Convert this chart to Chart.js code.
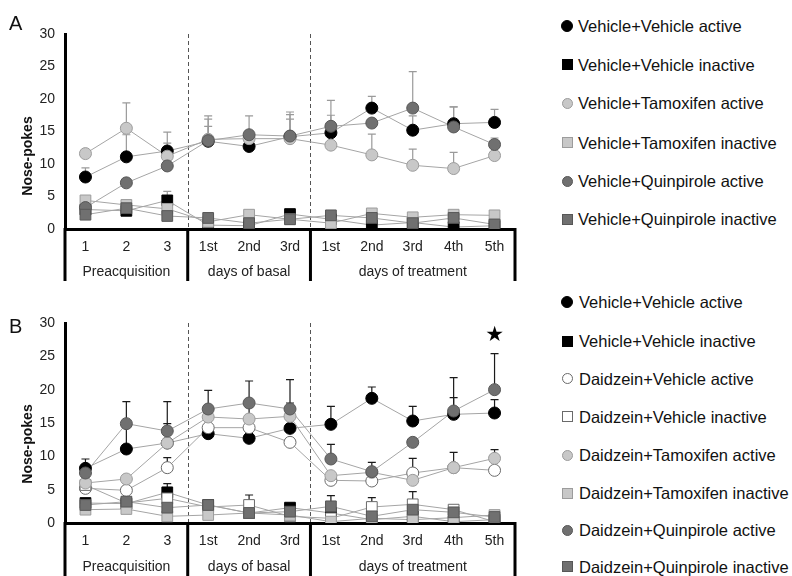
<!DOCTYPE html>
<html><head><meta charset="utf-8">
<script src="https://cdn.jsdelivr.net/npm/chart.js@4.4.0/dist/chart.umd.min.js"></script>
<style>
body{margin:0;background:#fff;width:792px;height:576px;overflow:hidden;position:relative;font-family:"Liberation Sans",Arial,sans-serif;color:#111}
canvas{position:absolute;left:0}
.lg{position:absolute;left:578px;font-size:16.5px;line-height:20px;white-space:nowrap;color:#111}
.mk{position:absolute;box-sizing:border-box}
.pl{position:absolute;font-size:20px;line-height:20px;left:9px}
</style></head><body>
<canvas id="cA" width="540" height="290" style="top:0"></canvas>
<canvas id="cB" width="540" height="286" style="top:290px"></canvas>
<div class="pl" style="top:13px">A</div>
<div class="pl" style="top:316px">B</div>
<div id="legend"></div>
<script>
// ---------- categories / groups ----------
const categories = ['1','2','3','1st','2nd','3rd','1st','2nd','3rd','4th','5th'];
const groupNames = ['Preacquisition','days of basal','days of treatment'];
const groupSizes = [3,3,5];
const yAxisTitle = 'Nose-pokes';

// ---------- Panel A values ----------
const aVehVehActive    = [8.0, 11.1, 12.0, 13.5, 12.7, 14.2, 14.8, 18.6, 15.2, 16.2, 16.4];
const aVehVehInactive  = [3.0, 2.8, 4.4, 0.6, 0.5, 2.3, 1.5, 0.6, 1.0, 0.3, 0.5];
const aVehTamActive    = [11.6, 15.5, 11.2, 13.8, 13.9, 13.9, 12.9, 11.4, 9.8, 9.3, 11.3];
const aVehTamInactive  = [4.4, 3.7, 3.1, 1.1, 2.2, 1.5, 0.9, 2.4, 1.8, 2.2, 2.1];
const aVehQuinActive   = [3.3, 7.1, 9.7, 13.6, 14.5, 14.3, 15.8, 16.3, 18.6, 15.7, 13.0];
const aVehQuinInactive = [2.2, 3.2, 2.0, 1.7, 0.9, 1.5, 2.1, 1.7, 0.9, 1.7, 0.7];
// error (SEM, upward) for panel A
const aErrVehVehActive   = [1.4, 3.4, 2.9, 3.9, 4.7, 3.8, 2.7, 1.8, 2.2, 2.6, 2.0];
const aErrVehVehInactive = [0, 0.3, 1.4, 0, 0, 0, 0, 0, 0, 0, 0];
const aErrVehTamActive   = [0, 3.9, 2.0, 3.1, 0, 3.0, 0, 3.2, 2.5, 2.5, 0];
const aErrVehQuinActive  = [0, 0, 0, 2.2, 0, 3.3, 4.0, 0, 5.6, 3.1, 1.0];

// ---------- Panel B values ----------
const bVehVehActive    = [8.2, 11.1, 12.0, 13.4, 12.7, 14.2, 14.8, 18.7, 15.3, 16.3, 16.5];
const bVehVehInactive  = [3.0, 2.9, 4.6, 2.7, 1.5, 2.3, 1.5, 0.5, 1.0, 0.2, 0.5];
const bDaiVehActive    = [5.2, 4.9, 8.3, 14.3, 14.3, 12.1, 6.4, 6.3, 7.5, 8.3, 7.9];
const bDaiVehInactive  = [5.7, 3.0, 3.7, 2.4, 2.7, 1.0, 0.7, 2.4, 2.8, 2.0, 0.2];
const bDaiTamActive    = [6.0, 6.6, 12.0, 15.9, 15.6, 16.0, 7.1, 7.6, 6.4, 8.3, 9.7];
const bDaiTamInactive  = [2.0, 2.1, 1.0, 1.2, 1.5, 1.2, 0.2, 0.7, 0.5, 0.8, 1.2];
const bDaiQuinActive   = [7.5, 14.9, 13.8, 17.1, 18.0, 17.1, 9.6, 7.7, 12.1, 16.8, 20.0];
const bDaiQuinInactive = [2.7, 3.2, 2.3, 2.7, 1.5, 1.7, 2.5, 1.0, 2.0, 1.6, 0.9];
// error (SEM, upward) for panel B
const bErrVehVehActive   = [1.4, 3.4, 2.9, 3.9, 4.7, 3.8, 2.7, 1.7, 2.2, 2.5, 2.0];
const bErrVehVehInactive = [0, 0, 1.3, 0, 0, 0, 0, 0, 0, 0, 0];
const bErrDaiVehActive   = [0, 0, 1.5, 0, 0, 0, 0, 0, 2.2, 0, 0];
const bErrDaiVehInactive = [0, 0, 0, 0, 1.5, 0, 0, 1.4, 1.9, 0, 0];
const bErrDaiTamActive   = [0, 0, 0, 0, 0, 0, 0, 0, 0, 2.3, 1.3];
const bErrDaiQuinActive  = [0, 3.3, 4.4, 2.8, 3.3, 4.4, 2.2, 1.4, 0, 5.0, 5.4];
const bErrDaiQuinInactive= [0, 0, 0, 0, 0, 0, 1.6, 0, 0, 0, 0];
// significance star (panel B)
const bStar = [null, null, null, null, null, null, null, null, null, null, 28.1];

// ---------- legend names ----------
const legendA = ['Vehicle+Vehicle active','Vehicle+Vehicle inactive','Vehicle+Tamoxifen active','Vehicle+Tamoxifen inactive','Vehicle+Quinpirole active','Vehicle+Quinpirole inactive'];
const legendB = ['Vehicle+Vehicle active','Vehicle+Vehicle inactive','Daidzein+Vehicle active','Daidzein+Vehicle inactive','Daidzein+Tamoxifen active','Daidzein+Tamoxifen inactive','Daidzein+Quinpirole active','Daidzein+Quinpirole inactive'];

const FONT = '"Liberation Sans", Arial, sans-serif';
const TONE = {
  black:{bg:'#000000', bd:'#000000'},
  light:{bg:'#c8c8c8', bd:'#9c9c9c'},
  dark: {bg:'#707070', bd:'#575757'},
  white:{bg:'#ffffff', bd:'#6a6a6a'}
};

const seriesA = [
  {data:aVehVehActive,   err:aErrVehVehActive,   shape:'c', tone:'black'},
  {data:aVehVehInactive, err:aErrVehVehInactive, shape:'s', tone:'black'},
  {data:aVehTamActive,   err:aErrVehTamActive,   shape:'c', tone:'light'},
  {data:aVehTamInactive, err:null,               shape:'s', tone:'light'},
  {data:aVehQuinActive,  err:aErrVehQuinActive,  shape:'c', tone:'dark'},
  {data:aVehQuinInactive,err:null,               shape:'s', tone:'dark'}
];
const seriesB = [
  {data:bVehVehActive,   err:bErrVehVehActive,   shape:'c', tone:'black'},
  {data:bVehVehInactive, err:bErrVehVehInactive, shape:'s', tone:'black'},
  {data:bDaiVehActive,   err:bErrDaiVehActive,   shape:'c', tone:'white'},
  {data:bDaiVehInactive, err:bErrDaiVehInactive, shape:'s', tone:'white'},
  {data:bDaiTamActive,   err:bErrDaiTamActive,   shape:'c', tone:'light'},
  {data:bDaiTamInactive, err:null,               shape:'s', tone:'light'},
  {data:bDaiQuinActive,  err:bErrDaiQuinActive,  shape:'c', tone:'dark'},
  {data:bDaiQuinInactive,err:bErrDaiQuinInactive,shape:'s', tone:'dark'}
];

function buildDatasets(series){
  const ds = [];
  series.forEach((s,i)=>{
    ds.push({data:s.data, showLine:true, borderColor:'#a5a5a5', borderWidth:1, pointRadius:0, pointHoverRadius:0, fill:false, tension:0, order:100+i});
  });
  series.forEach((s,i)=>{
    const t = TONE[s.tone];
    ds.push({data:s.data, showLine:false, pointStyle:s.shape==='c'?'circle':'rect',
      pointRadius:s.shape==='c'?6:7.6, pointHoverRadius:s.shape==='c'?6:7.6,
      pointBackgroundColor:t.bg, pointBorderColor:t.bd, pointBorderWidth:1,
      backgroundColor:t.bg, borderColor:t.bd, order:-i});
  });
  return ds;
}

function panelPlugin(cfg){
  return {
    id:'panelDeco',
    beforeDatasetsDraw(chart){
      const {ctx, chartArea, scales:{x,y}} = chart;
      ctx.save();
      // dashed separators inside plot
      ctx.strokeStyle = '#555'; ctx.lineWidth = 1; ctx.setLineDash([4,3]);
      let idx = 0;
      for (let g=0; g<groupSizes.length-1; g++){
        idx += groupSizes[g];
        const px = Math.round((x.getPixelForValue(idx-1)+x.getPixelForValue(idx))/2)+0.5;
        ctx.beginPath(); ctx.moveTo(px, chartArea.top); ctx.lineTo(px, chartArea.bottom); ctx.stroke();
      }
      ctx.setLineDash([]);
      // error bars
      ctx.strokeStyle = cfg.errColor; ctx.lineWidth = 1.2;
      cfg.series.forEach(s=>{
        if(!s.err) return;
        s.err.forEach((e,i)=>{
          if(!e) return;
          const px = x.getPixelForValue(i);
          const y0 = y.getPixelForValue(s.data[i]);
          const y1 = y.getPixelForValue(s.data[i]+e);
          ctx.beginPath(); ctx.moveTo(px,y0); ctx.lineTo(px,y1);
          ctx.moveTo(px-4,y1); ctx.lineTo(px+4,y1); ctx.stroke();
        });
      });
      ctx.restore();
    },
    afterDraw(chart){
      const {ctx, chartArea, scales:{x,y}} = chart;
      ctx.save();
      // group separators below axis
      ctx.strokeStyle = '#000'; ctx.lineWidth = 3;
      const bounds = [chartArea.left];
      let idx = 0;
      groupSizes.forEach(n=>{
        idx += n;
        if (idx < categories.length) bounds.push((x.getPixelForValue(idx-1)+x.getPixelForValue(idx))/2);
      });
      bounds.push(chartArea.right);
      bounds.forEach(b=>{
        ctx.beginPath(); ctx.moveTo(b, chartArea.bottom-1); ctx.lineTo(b, cfg.sepBottom); ctx.stroke();
      });
      // group labels
      ctx.fillStyle = '#222'; ctx.font = '14px ' + FONT; ctx.textAlign='center'; ctx.textBaseline='middle';
      groupNames.forEach((g,i)=>{ ctx.fillText(g, (bounds[i]+bounds[i+1])/2, cfg.groupY); });
      // y title
      ctx.save();
      ctx.translate(28, cfg.titleY); ctx.rotate(-Math.PI/2);
      ctx.font = 'bold 14px ' + FONT; ctx.fillStyle = '#111';
      ctx.fillText(yAxisTitle, 0, 0);
      ctx.restore();
      // star
      if (cfg.star){
        ctx.font = '21px "DejaVu Sans", sans-serif'; ctx.fillStyle='#000';
        cfg.star.forEach((v,i)=>{ if(v!=null) ctx.fillText('\u2605', x.getPixelForValue(i), y.getPixelForValue(v)); });
      }
      ctx.restore();
    }
  };
}

function makeChart(id, series, cfg){
  return new Chart(document.getElementById(id), {
    type:'line',
    data:{labels:categories, datasets:buildDatasets(series)},
    options:{
      responsive:false, animation:false, devicePixelRatio:1,
      layout:{padding:{top:cfg.padTop, left:0, right:25, bottom:0}},
      plugins:{legend:{display:false}, tooltip:{enabled:false}},
      scales:{
        x:{type:'category', offset:true,
           grid:{display:false, drawTicks:false},
           border:{display:true, color:'#000', width:3},
           ticks:{padding:cfg.tickPad, color:'#222', font:{size:14, family:FONT}, autoSkip:false, maxRotation:0},
           afterFit:s=>{s.height = cfg.xH;}},
        y:{min:0, max:30,
           grid:{display:false, drawTicks:false},
           border:{display:true, color:'#000', width:3},
           ticks:{stepSize:5, padding:10, color:'#222', font:{size:14, family:FONT}},
           afterFit:s=>{s.width = 65;}}
      }
    },
    plugins:[panelPlugin(Object.assign({series}, cfg))]
  });
}

makeChart('cA', seriesA, {padTop:34, xH:61, tickPad:10, sepBottom:281, groupY:272, titleY:156, errColor:'#9a9a9a'});
makeChart('cB', seriesB, {padTop:33, xH:53, tickPad:10, sepBottom:286, groupY:277, titleY:154, errColor:'#1a1a1a', star:bStar});

// ---------- HTML legend ----------
function addLegend(names, series, centers, textLeft){
  const root = document.getElementById('legend');
  names.forEach((n,i)=>{
    const s = series[i]; const t = TONE[s.tone];
    const m = document.createElement('div'); m.className='mk';
    const size = s.shape==='c' ? (s.tone==='black'?12:11) : 11;
    m.style.width=size+'px'; m.style.height=size+'px';
    m.style.left=(567-size/2)+'px'; m.style.top=(centers[i]-size/2)+'px';
    m.style.background=t.bg; m.style.border='1px solid '+t.bd;
    if (s.shape==='c') m.style.borderRadius='50%';
    root.appendChild(m);
    const d = document.createElement('div'); d.className='lg';
    d.style.left=textLeft+'px'; d.style.top=(centers[i]-10)+'px'; d.textContent=n;
    root.appendChild(d);
  });
}
addLegend(legendA, seriesA, [26, 64.5, 103, 142.5, 181, 219], 578);
addLegend(legendB, seriesB, [301.7, 341, 378.7, 416.7, 455, 493.3, 530, 566.7], 579);
</script>
</body></html>
